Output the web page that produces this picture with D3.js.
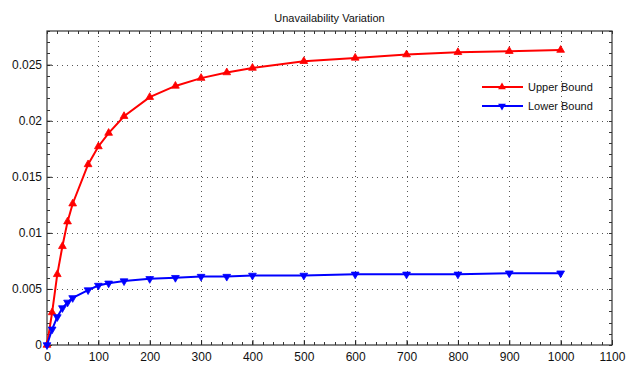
<!DOCTYPE html>
<html>
<head>
<meta charset="utf-8">
<script src="https://cdn.jsdelivr.net/npm/d3@7"></script>
<style>
body{margin:0;background:#fff;}
text{font-family:"Liberation Sans",Arial,sans-serif;}
</style>
</head>
<body>
<svg id="chart" width="626" height="366"></svg>
<script>
// data
var xVals = [0,10,20,30,40,50,80,100,120,150,200,250,300,350,400,500,600,700,800,900,1000];
var upperVals = [0,0.0029,0.0063,0.0088,0.0110,0.0126,0.0161,0.0177,0.0189,0.0204,0.0221,0.0231,0.0238,0.0243,0.0247,0.0253,0.0256,0.0259,0.0261,0.0262,0.0263];
var lowerVals = [0,0.0014,0.0025,0.0033,0.0038,0.0042,0.0049,0.0053,0.0055,0.0057,0.0059,0.0060,0.0061,0.0061,0.0062,0.0062,0.0063,0.0063,0.0063,0.0064,0.0064];
var xTicks = [0,100,200,300,400,500,600,700,800,900,1000,1100];
var yTicks = [0,0.005,0.01,0.015,0.02,0.025];
var seriesNames = ["Upper Bound","Lower Bound"];
var seriesColors = ["#ff0000","#0000ff"];

var svg = d3.select("#chart");
var pLeft=47, pRight=612, pTop=31, pBottom=345;

var x = d3.scaleLinear().domain([0,1100]).range([pLeft,pRight]);
var y = d3.scaleLinear().domain([0,0.028]).range([pBottom,pTop]);

//----- grid
var grid = svg.append("g");
grid.selectAll(".gx").data(xTicks.slice(1,-1)).enter().append("line")
  .attr("x1",function(d){return Math.round(x(d))+0.5;}).attr("x2",function(d){return Math.round(x(d))+0.5;})
  .attr("y1",pTop).attr("y2",pBottom)
  .style("stroke","#555").style("stroke-width",1).style("stroke-dasharray","1,4");
grid.selectAll(".gy").data(yTicks.slice(1)).enter().append("line")
  .attr("x1",pLeft).attr("x2",pRight)
  .attr("y1",function(d){return Math.round(y(d))+0.5;}).attr("y2",function(d){return Math.round(y(d))+0.5;})
  .style("stroke","#555").style("stroke-width",1).style("stroke-dasharray","1,4");

//----- minor ticks
var xMinor = d3.range(0,1101,20), yMinor = d3.range(0,0.0281,0.001);
var mt = svg.append("g").style("stroke","#333").style("stroke-width",1);
mt.selectAll(".mxb").data(xMinor).enter().append("line")
  .attr("x1",function(d){return Math.round(x(d))+0.5;}).attr("x2",function(d){return Math.round(x(d))+0.5;})
  .attr("y1",pBottom).attr("y2",pBottom-3);
mt.selectAll(".mxt").data(xMinor).enter().append("line")
  .attr("x1",function(d){return Math.round(x(d))+0.5;}).attr("x2",function(d){return Math.round(x(d))+0.5;})
  .attr("y1",pTop).attr("y2",pTop+3);
mt.selectAll(".myl").data(yMinor).enter().append("line")
  .attr("x1",pLeft).attr("x2",pLeft+3)
  .attr("y1",function(d){return Math.round(y(d))+0.5;}).attr("y2",function(d){return Math.round(y(d))+0.5;});
mt.selectAll(".myr").data(yMinor).enter().append("line")
  .attr("x1",pRight).attr("x2",pRight-3)
  .attr("y1",function(d){return Math.round(y(d))+0.5;}).attr("y2",function(d){return Math.round(y(d))+0.5;});

//----- axes
var xAxis = svg.append("g").attr("transform","translate(0,"+pBottom+")")
  .call(d3.axisBottom(x).tickValues(xTicks).tickSize(-5).tickPadding(7).tickFormat(d3.format("d")));
var yAxis = svg.append("g").attr("transform","translate("+pLeft+",0)")
  .call(d3.axisLeft(y).tickValues(yTicks).tickSize(-5).tickPadding(5).tickFormat(function(d){return d===0?"0":String(+d.toFixed(3));}));
[xAxis,yAxis].forEach(function(a){
  a.select(".domain").remove();
  a.selectAll("line").style("stroke","#222");
  a.selectAll("text").style("font-size","12px").style("fill","#111").style("font-family","Liberation Sans,Arial,sans-serif");
});

// box
svg.append("rect").attr("x",pLeft).attr("y",pTop).attr("width",pRight-pLeft).attr("height",pBottom-pTop)
  .style("fill","none").style("stroke","#333").style("stroke-width",1.2);

//----- series
var seriesData = [upperVals,lowerVals];
var tri = d3.symbol().type(d3.symbolTriangle).size(26);
seriesData.forEach(function(vals,k){
  var pts = xVals.map(function(d,i){return [d,vals[i]];});
  var line = d3.line().x(function(d){return x(d[0]);}).y(function(d){return y(d[1]);});
  svg.append("path").datum(pts).attr("d",line)
    .style("fill","none").style("stroke",seriesColors[k]).style("stroke-width",2);
  svg.selectAll(".mk"+k).data(pts).enter().append("path")
    .attr("d",tri)
    .attr("transform",function(d){return "translate("+x(d[0])+","+y(d[1])+")"+(k==1?" rotate(180)":"");})
    .style("fill",seriesColors[k]).style("stroke",seriesColors[k]).style("stroke-width",0.8);
});

//----- legend
var leg = svg.append("g");
seriesNames.forEach(function(n,k){
  var ly = 87+19*k;
  leg.append("line").attr("x1",482).attr("x2",523).attr("y1",ly).attr("y2",ly)
    .style("stroke",seriesColors[k]).style("stroke-width",2);
  leg.append("path").attr("d",tri)
    .attr("transform","translate(502,"+ly+")"+(k==1?" rotate(180)":""))
    .style("fill",seriesColors[k]);
  leg.append("text").attr("x",528).attr("y",ly+4).text(n)
    .style("font-size","11px").style("fill","#111");
});

// title
svg.append("text").attr("x",(pLeft+pRight)/2).attr("y",22).attr("text-anchor","middle")
  .text("Unavailability Variation").style("font-size","11px").style("fill","#111");
</script>
</body>
</html>
